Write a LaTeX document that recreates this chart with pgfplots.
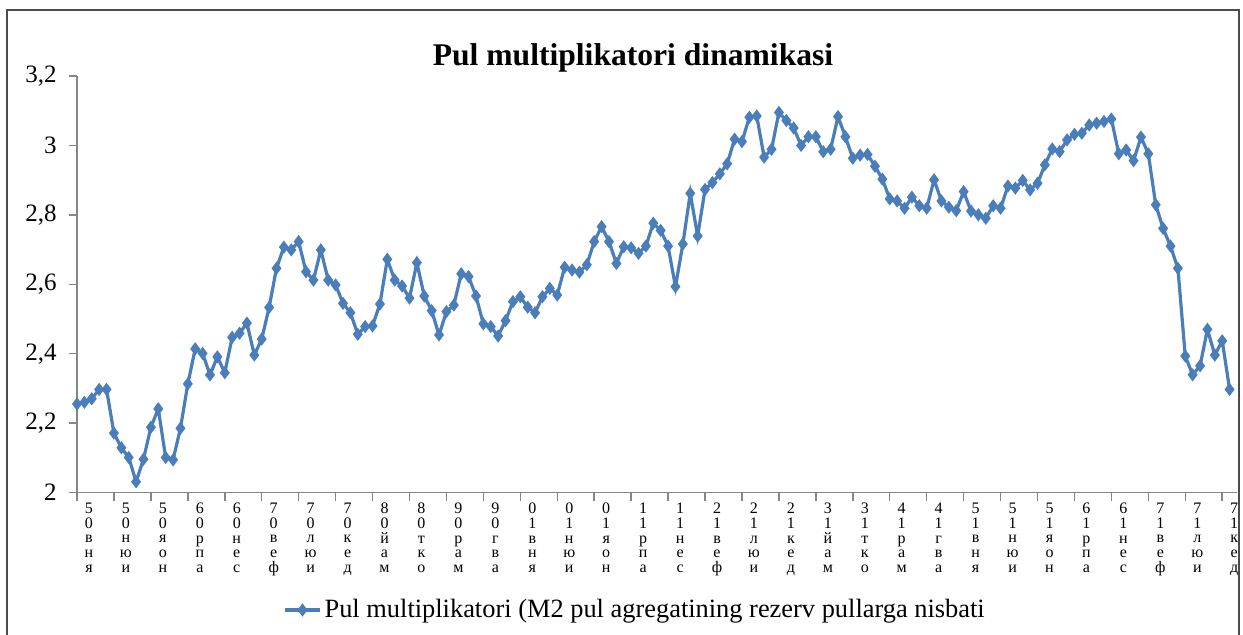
\documentclass[border=0pt]{standalone}
\usepackage{pgfplots}
\pgfplotsset{compat=1.18}
\usepackage{fontspec}
\setmainfont{Liberation Serif}
\definecolor{ser}{HTML}{4A7EBB}
\definecolor{axg}{HTML}{868686}
% stacked month label: two year digits, then three letters
\newcommand{\lab}[5]{#1\\#2\\#3\\#4\\#5}

\begin{document}
\begin{tikzpicture}[x=0.5pt,y=0.5pt]
\useasboundingbox (0,0) rectangle (1243,634);
\draw[line width=1.2pt, black!70] (7,-5) -- (7,624) -- (1239,624) -- (1239,-5);
\node[font=\bfseries\fontsize{15.8}{18}\selectfont] at (633,576) {Pul multiplikatori dinamikasi};
\begin{axis}[
  at={(38.5pt,70.75pt)}, anchor=south west,
  scale only axis, width=580pt, height=208.25pt,
  xmin=0, xmax=157, ymin=2, ymax=3.2,
  axis lines*=left,
  axis line style={axg, line width=0.75pt},
  tick style={axg, line width=0.75pt},
  tick align=outside, major tick length=4pt,
  ytick={2,2.2,2.4,2.6,2.8,3,3.2},
  yticklabels={{2},{2,2},{2,4},{2,6},{2,8},{3},{3,2}},
  yticklabel style={font=\fontsize{12.5}{14}\selectfont, inner sep=0pt, anchor=east, xshift=-6pt},
  xtick={0,5,...,155},
  xticklabels={{\lab50вня},{\lab50нюи},{\lab50яон},{\lab60рпа},{\lab60нес},{\lab70веф},{\lab70люи},{\lab70кед},
    {\lab80йам},{\lab80тко},{\lab90рам},{\lab90гва},{\lab01вня},{\lab01нюи},{\lab01яон},{\lab11рпа},
    {\lab11нес},{\lab21веф},{\lab21люи},{\lab21кед},{\lab31йам},{\lab31тко},{\lab41рам},{\lab41гва},
    {\lab51вня},{\lab51нюи},{\lab51яон},{\lab61рпа},{\lab61нес},{\lab71веф},{\lab71люи},{\lab71кед}},
  xticklabel style={align=center, font=\fontsize{8}{7.4}\selectfont, anchor=north, inner sep=0pt, xshift=6pt, yshift=-1pt},
  clip=false,
  legend style={at={(0.1776,-0.282)}, anchor=west, draw=none, fill=none,
    font=\fontsize{13.2}{15}\selectfont, inner sep=0pt,
    nodes={inner sep=0.5pt}, column sep=1pt},
  legend image code/.code={\draw[mark repeat=2,mark phase=2] plot coordinates {(0pt,0pt) (8.75pt,0pt) (17.5pt,0pt)};},
]
\addplot[color=ser, line width=1.6pt, mark=diamond*, mark size=2pt, mark options={solid}] coordinates {
(0,2.255)(1,2.260)(2,2.270)(3,2.297)(4,2.297)(5,2.171)(6,2.129)(7,2.101)(8,2.031)(9,2.096)
(10,2.188)(11,2.241)(12,2.101)(13,2.094)(14,2.185)(15,2.313)(16,2.414)(17,2.401)(18,2.339)(19,2.391)
(20,2.345)(21,2.447)(22,2.459)(23,2.488)(24,2.396)(25,2.442)(26,2.533)(27,2.646)(28,2.707)(29,2.699)
(30,2.723)(31,2.636)(32,2.612)(33,2.699)(34,2.612)(35,2.598)(36,2.545)(37,2.518)(38,2.456)(39,2.478)
(40,2.480)(41,2.543)(42,2.672)(43,2.612)(44,2.595)(45,2.560)(46,2.662)(47,2.566)(48,2.524)(49,2.454)
(50,2.521)(51,2.540)(52,2.630)(53,2.622)(54,2.566)(55,2.486)(56,2.478)(57,2.451)(58,2.495)(59,2.550)
(60,2.564)(61,2.534)(62,2.518)(63,2.564)(64,2.588)(65,2.569)(66,2.649)(67,2.641)(68,2.635)(69,2.656)
(70,2.723)(71,2.766)(72,2.723)(73,2.660)(74,2.708)(75,2.705)(76,2.689)(77,2.710)(78,2.776)(79,2.755)
(80,2.710)(81,2.593)(82,2.716)(83,2.862)(84,2.739)(85,2.873)(86,2.893)(87,2.918)(88,2.947)(89,3.018)
(90,3.011)(91,3.081)(92,3.085)(93,2.966)(94,2.989)(95,3.095)(96,3.072)(97,3.050)(98,3.000)(99,3.025)
(100,3.025)(101,2.982)(102,2.989)(103,3.083)(104,3.025)(105,2.963)(106,2.972)(107,2.974)(108,2.940)(109,2.903)
(110,2.846)(111,2.840)(112,2.819)(113,2.851)(114,2.826)(115,2.819)(116,2.901)(117,2.840)(118,2.822)(119,2.812)
(120,2.867)(121,2.811)(122,2.800)(123,2.790)(124,2.826)(125,2.819)(126,2.883)(127,2.877)(128,2.899)(129,2.872)
(130,2.891)(131,2.944)(132,2.990)(133,2.982)(134,3.016)(135,3.032)(136,3.035)(137,3.059)(138,3.064)(139,3.069)
(140,3.076)(141,2.976)(142,2.987)(143,2.956)(144,3.024)(145,2.976)(146,2.829)(147,2.761)(148,2.710)(149,2.646)
(150,2.393)(151,2.339)(152,2.365)(153,2.470)(154,2.396)(155,2.437)(156,2.297)
};
\addlegendentry{Pul multiplikatori (M2 pul agregatining rezerv pullarga nisbati}
\end{axis}
\end{tikzpicture}
\end{document}
